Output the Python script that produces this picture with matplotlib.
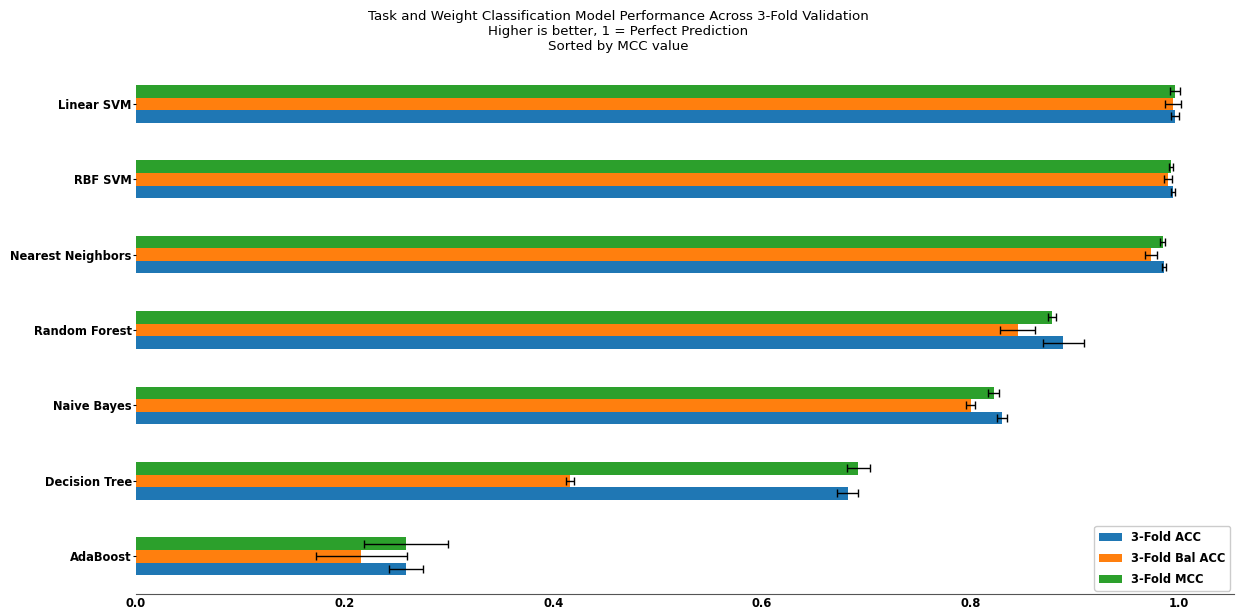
import matplotlib
matplotlib.use("Agg")
import matplotlib.pyplot as plt
import numpy as np

models = ["AdaBoost", "Decision Tree", "Naive Bayes", "Random Forest",
          "Nearest Neighbors", "RBF SVM", "Linear SVM"]
series_names = ["3-Fold ACC", "3-Fold Bal ACC", "3-Fold MCC"]
acc = [0.259, 0.682, 0.830, 0.889, 0.9856, 0.9936, 0.996]
acc_err = [0.016, 0.0105, 0.005, 0.020, 0.002, 0.002, 0.004]
bal_acc = [0.216, 0.416, 0.800, 0.845, 0.973, 0.989, 0.994]
bal_acc_err = [0.0436, 0.004, 0.004, 0.017, 0.006, 0.004, 0.008]
mcc = [0.259, 0.6925, 0.822, 0.878, 0.984, 0.992, 0.996]
mcc_err = [0.040, 0.011, 0.005, 0.004, 0.002, 0.002, 0.005]
colors = ["#1f77b4", "#ff7f0e", "#2ca02c"]

fig = plt.figure(figsize=(12.36, 6.12), dpi=100)
ax = fig.add_axes([0.110, 0.0294, 0.888, 0.8626])

y = np.arange(len(models))
h = 0.5 / 3
vals = [acc, bal_acc, mcc]
errs = [acc_err, bal_acc_err, mcc_err]
for i, (v, e, c, n) in enumerate(zip(vals, errs, colors, series_names)):
    ax.barh(y + (i - 1) * h, v, height=h, color=c, label=n,
            xerr=e, error_kw=dict(ecolor="black", capsize=3, elinewidth=1, capthick=1))

ax.set_yticks(y)
ax.set_yticklabels(models, fontsize=8.3, fontweight="bold")
ax.set_ylim(-0.5, len(models) - 0.5)
ax.set_xlim(0, 1.052)
ax.set_xticks([0.0, 0.2, 0.4, 0.6, 0.8, 1.0])
ax.set_xticklabels(["0.0", "0.2", "0.4", "0.6", "0.8", "1.0"], fontsize=8.3, fontweight="bold")
ax.tick_params(axis="x", length=0, pad=2)
ax.tick_params(axis="y", length=2, pad=1)
for s in ["top", "right", "left"]:
    ax.spines[s].set_visible(False)
ax.spines["bottom"].set_color("#555555")

leg = ax.legend(loc="lower right", prop=dict(size=8.3, weight="bold"), framealpha=1,
                borderaxespad=0.3, labelspacing=0.7)

fig.text(0.5, 0.984,
         "Task and Weight Classification Model Performance Across 3-Fold Validation\n"
         "Higher is better, 1 = Perfect Prediction\nSorted by MCC value",
         ha="center", va="top", fontsize=9.6, linespacing=1.2)

fig.savefig("out.png", dpi=100)
